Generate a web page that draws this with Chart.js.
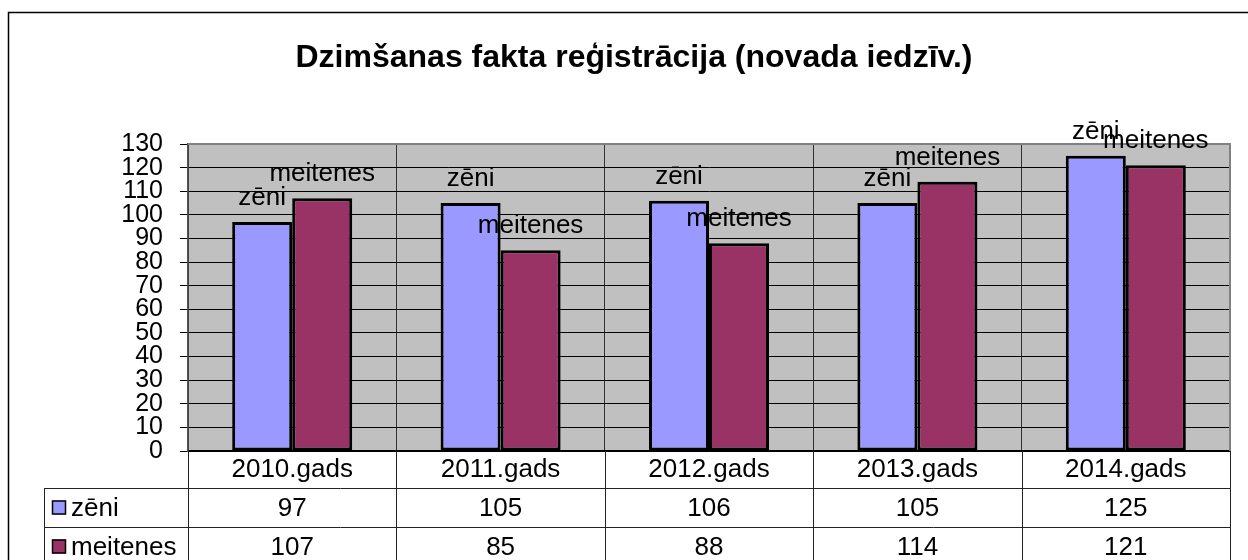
<!DOCTYPE html>
<html><head><meta charset="utf-8">
<script src="https://cdn.jsdelivr.net/npm/chart.js@4/dist/chart.umd.min.js"></script>
<style>html,body{margin:0;padding:0;background:#fff}canvas{display:block}</style>
</head><body>
<canvas id="c" width="1248" height="560"></canvas>
<script>
const titleText = 'Dzimšanas fakta reģistrācija (novada iedzīv.)';
const categories = ['2010.gads', '2011.gads', '2012.gads', '2013.gads', '2014.gads'];
const seriesNames = ['zēni', 'meitenes'];
const zeni = [97, 105, 106, 105, 125];
const meitenes = [107, 85, 88, 114, 121];
const yMin = 0, yMax = 130, yStep = 10;

const FONT = "'Liberation Sans', Arial, sans-serif";
const TXT = 26;
const colors = ['#9999FF', '#993366'];
const seriesValues = [zeni, meitenes];

const decorPlugin = {
  id: 'decor',
  beforeDraw(chart) {
    const {ctx, chartArea: a} = chart;
    ctx.save();
    ctx.fillStyle = '#fff';
    ctx.fillRect(0, 0, chart.width, chart.height);
    ctx.strokeStyle = '#000';
    ctx.lineWidth = 1.5;
    ctx.beginPath();
    ctx.moveTo(8.5, chart.height); ctx.lineTo(8.5, 12.5); ctx.lineTo(chart.width, 12.5);
    ctx.stroke();
    ctx.fillStyle = '#C0C0C0';
    ctx.fillRect(a.left, a.top, a.right - a.left, a.bottom - a.top);
    ctx.restore();
  },
  beforeDatasetsDraw(chart) {
    const {ctx, chartArea: a} = chart;
    ctx.save();
    ctx.strokeStyle = '#808080';
    ctx.lineWidth = 2;
    ctx.beginPath();
    ctx.moveTo(a.left, a.top); ctx.lineTo(a.right, a.top); ctx.lineTo(a.right, a.bottom);
    ctx.stroke();
    ctx.restore();
  },
  afterDatasetsDraw(chart) {
    const {ctx} = chart;
    ctx.save();
    ctx.font = TXT + 'px ' + FONT;
    ctx.fillStyle = '#000';
    ctx.textAlign = 'center';
    ctx.textBaseline = 'alphabetic';
    chart.data.datasets.forEach((ds, di) => {
      chart.getDatasetMeta(di).data.forEach(bar => {
        ctx.fillText(ds.label, bar.x, bar.y - 17);
      });
    });
    ctx.restore();
  },
  afterDraw(chart) {
    const {ctx, chartArea: a} = chart;
    const xs = chart.scales.x;
    const n = categories.length;
    const cw = (a.right - a.left) / n;
    const r0 = a.bottom, r1 = a.bottom + 37, r2 = a.bottom + 76, r3 = a.bottom + 115;
    const tableLeft = 44;
    ctx.save();
    ctx.font = 'bold 32px ' + FONT;
    ctx.fillStyle = '#000';
    ctx.textAlign = 'center';
    ctx.textBaseline = 'alphabetic';
    ctx.fillText(titleText, 634, 67);
    ctx.strokeStyle = '#222';
    ctx.lineWidth = 1;
    ctx.beginPath();
    for (let i = 0; i <= n; i++) {
      const xb = Math.round(xs.getPixelForValue(0) - cw / 2 + i * cw) + 0.5;
      ctx.moveTo(xb, r0); ctx.lineTo(xb, chart.height);
    }
    ctx.moveTo(tableLeft + 0.5, r1); ctx.lineTo(tableLeft + 0.5, chart.height);
    ctx.moveTo(tableLeft, r1 + 0.5); ctx.lineTo(a.right, r1 + 0.5);
    ctx.moveTo(tableLeft, r2 + 0.5); ctx.lineTo(a.right, r2 + 0.5);
    ctx.stroke();
    ctx.font = TXT + 'px ' + FONT;
    ctx.textBaseline = 'middle';
    ctx.textAlign = 'center';
    const rowMid = [(r1 + r2) / 2, (r2 + r3) / 2];
    seriesValues.forEach((vals, si) => {
      vals.forEach((v, i) => {
        ctx.fillText(String(v), xs.getPixelForValue(i), rowMid[si] + 1);
      });
    });
    ctx.textAlign = 'left';
    seriesNames.forEach((name, si) => {
      const cy = rowMid[si];
      ctx.fillStyle = colors[si];
      ctx.fillRect(52, cy - 7, 14, 14);
      ctx.strokeStyle = '#000';
      ctx.lineWidth = 1.5;
      ctx.strokeRect(52.5, cy - 6.5, 13, 13);
      ctx.fillStyle = '#000';
      ctx.fillText(name, 71, cy + 1);
    });
    ctx.restore();
  }
};

new Chart(document.getElementById('c'), {
  type: 'bar',
  data: {
    labels: categories,
    datasets: seriesNames.map((name, i) => ({
      label: name,
      data: seriesValues[i],
      backgroundColor: colors[i],
      borderColor: '#000',
      borderWidth: 3,
      borderSkipped: false,
      categoryPercentage: 0.576,
      barPercentage: 1.0
    }))
  },
  options: {
    responsive: false,
    animation: false,
    events: [],
    layout: {padding: {left: 0, top: 144, right: 18, bottom: 0}},
    plugins: {legend: {display: false}, title: {display: false}, tooltip: {enabled: false}},
    scales: {
      x: {
        afterFit(s) { s.height = 109; },
        grid: {offset: true, color: '#333', lineWidth: 1, drawTicks: false},
        border: {color: '#000', width: 1.5},
        ticks: {font: {family: FONT, size: TXT}, color: '#000', padding: 3, autoSkip: false, maxRotation: 0}
      },
      y: {
        min: yMin, max: yMax,
        afterFit(s) { s.width = 188; },
        grid: {color: '#000', lineWidth: 1, tickLength: 8},
        border: {color: '#555', width: 1.5},
        ticks: {stepSize: yStep, autoSkip: false, font: {family: FONT, size: 25}, color: '#000', padding: 17}
      }
    }
  },
  plugins: [decorPlugin]
});
</script>
</body></html>
